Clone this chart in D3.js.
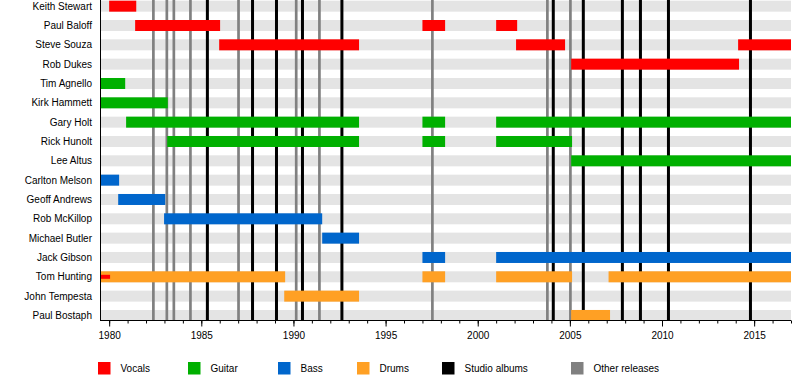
<!DOCTYPE html>
<html>
<head>
<meta charset="utf-8">
<script src="https://cdn.jsdelivr.net/npm/d3@7"></script>
<style>
  html, body { margin: 0; padding: 0; background: #fff; }
  svg { display: block; }
  text { font-family: "Liberation Sans", Arial, sans-serif; font-size: 10px; fill: #000; }
</style>
</head>
<body>
<svg id="chart" width="800" height="380"></svg>
<script>
// ---------------- data ----------------
const START = 1979.53;
const END = 2017.0;

const members = ["Keith Stewart", "Paul Baloff", "Steve Souza", "Rob Dukes", "Tim Agnello",
  "Kirk Hammett", "Gary Holt", "Rick Hunolt", "Lee Altus", "Carlton Melson", "Geoff Andrews",
  "Rob McKillop", "Michael Butler", "Jack Gibson", "Tom Hunting", "John Tempesta", "Paul Bostaph"];

const vocals = [
  ["Keith Stewart", 1980.0, 1981.47],
  ["Paul Baloff", 1981.41, 1986.02],
  ["Paul Baloff", 1997.0, 1998.23],
  ["Paul Baloff", 2001.0, 2002.14],
  ["Steve Souza", 1985.97, 1993.56],
  ["Steve Souza", 2002.08, 2004.74],
  ["Steve Souza", 2014.13, END],
  ["Rob Dukes", 2005.07, 2014.18]
];
const guitar = [
  ["Tim Agnello", START, 1980.87],
  ["Kirk Hammett", START, 1983.18],
  ["Gary Holt", 1980.92, 1993.56],
  ["Gary Holt", 1997.0, 1998.23],
  ["Gary Holt", 2001.0, END],
  ["Rick Hunolt", 1983.15, 1993.56],
  ["Rick Hunolt", 1997.0, 1998.23],
  ["Rick Hunolt", 2001.0, 2005.12],
  ["Lee Altus", 2005.07, END]
];
const bass = [
  ["Carlton Melson", START, 1980.54],
  ["Geoff Andrews", 1980.49, 1983.04],
  ["Rob McKillop", 1982.98, 1991.56],
  ["Michael Butler", 1991.56, 1993.56],
  ["Jack Gibson", 1997.0, 1998.23],
  ["Jack Gibson", 2001.0, END]
];
const drums = [
  ["Tom Hunting", START, 1989.55],
  ["Tom Hunting", 1997.0, 1998.23],
  ["Tom Hunting", 2001.0, 2005.12],
  ["Tom Hunting", 2007.1, END],
  ["John Tempesta", 1989.5, 1993.56],
  ["Paul Bostaph", 2005.07, 2007.18]
];
// secondary role (thin bar)
const backingVocals = [
  ["Tom Hunting", START, 1980.05]
];

const studioAlbums = [1985.33, 1987.78, 1989.08, 1990.49, 1992.63, 2004.10, 2005.73, 2007.85, 2008.83, 2010.35, 2014.80];
const otherReleases = [1982.40, 1983.13, 1983.51, 1984.41, 1987.02, 1990.15, 1991.41, 1997.54, 2003.78, 2005.03];

const majorTicks = [1980, 1985, 1990, 1995, 2000, 2005, 2010, 2015];
const minorTicks = d3.range(1980, 2018);

const legendLabels = ["Vocals", "Guitar", "Bass", "Drums", "Studio albums", "Other releases"];

// ---------------- style / layout ----------------
const colors = {
  Vocals: "#ff0000", Guitar: "#00b000", Bass: "#0066cc", Drums: "#ffa024",
  "Studio albums": "#000000", "Other releases": "#808080"
};
const legendX = [98, 188, 278, 357, 442, 571];

const svg = d3.select("#chart");
const left = 100.5, right = 791, axisY = 320.5;

const x = d3.scaleLinear().domain([START, END]).range([left, right]);
const y = d3.scaleBand().domain(members).range([0.67, 0.67 + 19.33 * 16.57])
  .paddingInner(0.431).paddingOuter(0);
const bw = y.bandwidth();

// stripes
svg.append("g").selectAll("rect").data(members).join("rect")
  .attr("x", left).attr("y", d => y(d))
  .attr("width", right - left).attr("height", bw)
  .attr("fill", "#e4e4e4");

// release lines
svg.append("g").selectAll("line").data(otherReleases).join("line")
  .attr("x1", d => x(d)).attr("x2", d => x(d))
  .attr("y1", 0).attr("y2", axisY)
  .attr("stroke", colors["Other releases"]).attr("stroke-width", 2.7);
svg.append("g").selectAll("line").data(studioAlbums).join("line")
  .attr("x1", d => x(d)).attr("x2", d => x(d))
  .attr("y1", 0).attr("y2", axisY)
  .attr("stroke", colors["Studio albums"]).attr("stroke-width", 3);

// bars
function drawBars(data, color) {
  svg.append("g").selectAll("rect").data(data).join("rect")
    .attr("x", d => x(d[1])).attr("y", d => y(d[0]))
    .attr("width", d => x(d[2]) - x(d[1])).attr("height", bw)
    .attr("fill", color);
}
drawBars(vocals, colors.Vocals);
drawBars(guitar, colors.Guitar);
drawBars(bass, colors.Bass);
drawBars(drums, colors.Drums);

svg.append("g").selectAll("rect").data(backingVocals).join("rect")
  .attr("x", d => x(d[1])).attr("y", d => y(d[0]) + bw / 2 - 2)
  .attr("width", d => x(d[2]) - x(d[1])).attr("height", 4)
  .attr("fill", colors.Vocals);

// member labels
svg.append("g").selectAll("text").data(members).join("text")
  .attr("x", 92).attr("y", d => y(d) + bw / 2)
  .attr("dy", "0.35em").attr("text-anchor", "end")
  .text(d => d);

// axes
const gx = svg.append("g").attr("transform", `translate(0,${axisY})`);
gx.call(d3.axisBottom(x).tickValues(minorTicks).tickSize(3).tickFormat(""))
  .call(g => g.select(".domain").remove());
const gx2 = svg.append("g").attr("transform", `translate(0,${axisY})`);
gx2.call(d3.axisBottom(x).tickValues(majorTicks).tickSize(6).tickPadding(5).tickFormat(d3.format("d")))
  .call(g => g.select(".domain").remove());
gx2.selectAll("text").style("font-family", '"Liberation Sans", Arial, sans-serif').style("font-size", "10px").attr("fill", "#000");
svg.selectAll(".tick line").attr("stroke", "#000");

svg.append("line").attr("x1", left - 0.5).attr("x2", right).attr("y1", axisY).attr("y2", axisY)
  .attr("stroke", "#000").attr("stroke-width", 1);
svg.append("line").attr("x1", left).attr("x2", left).attr("y1", 0).attr("y2", axisY)
  .attr("stroke", "#000").attr("stroke-width", 1);

// legend
const lg = svg.append("g").selectAll("g").data(legendLabels).join("g")
  .attr("transform", (d, i) => `translate(${legendX[i]},362)`);
lg.append("rect").attr("width", 12.5).attr("height", 12.5).attr("fill", d => colors[d]);
lg.append("text").attr("x", 22.5).attr("y", 6.5).attr("dy", "0.35em").text(d => d);
</script>
</body>
</html>
